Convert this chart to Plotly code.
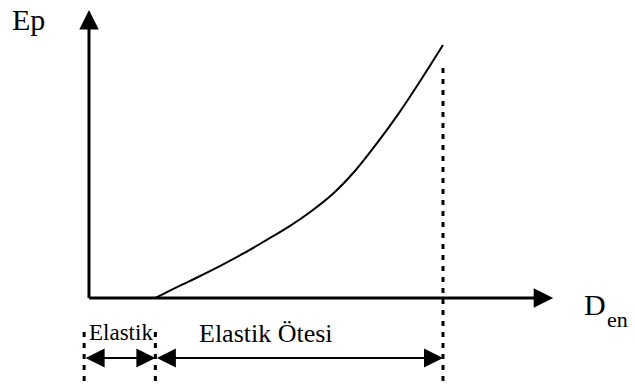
import plotly.graph_objects as go

# ---- data (conceptual curve: Ep vs D_en) ----
den = [1.5, 2.0, 2.5, 3.0, 3.5, 4.0, 4.5, 5.0, 5.5, 6.0, 6.5, 7.0, 7.5, 8.0]
ep = [0.0, 0.44, 0.86, 1.30, 1.77, 2.28, 2.80, 3.40, 4.10, 5.0, 6.1, 7.3, 8.62, 10.0]

y_label = "Ep"
x_label_main = "D"
x_label_sub = "en"
zone_labels = ["Elastik", "Elastik Ötesi"]

W, H = 635, 392
FONT = "Liberation Serif, Times New Roman, serif"

x_range = [-2.011, 12.339]
y_range = [-3.715, 11.779]

fig = go.Figure()

# curve
fig.add_trace(go.Scatter(x=den, y=ep, mode="lines",
                         line=dict(color="black", width=2, shape="spline", smoothing=1.0),
                         hoverinfo="skip", showlegend=False))

x0, x1 = den[0], den[-1]
x_left = -0.11
dash_bottom = -3.32
dash_top_small = -1.344

dash_line = dict(color="black", width=3, dash="5px,6px")
shapes = [
    dict(type="line", x0=x1, x1=x1, y0=9.09, y1=dash_bottom, xref="x", yref="y", line=dash_line),
    dict(type="line", x0=x0, x1=x0, y0=dash_top_small, y1=dash_bottom, xref="x", yref="y", line=dash_line),
    dict(type="line", x0=x_left, x1=x_left, y0=dash_top_small, y1=dash_bottom, xref="x", yref="y", line=dash_line),
]

ann = []
# y axis arrow
ann.append(dict(x=0, y=11.38, ax=0, ay=-0.06, xref="x", yref="y", axref="x", ayref="y",
                text="", showarrow=True, arrowhead=2, arrowwidth=3, arrowsize=1.3,
                arrowcolor="black", standoff=0, startstandoff=0))
# x axis arrow
ann.append(dict(x=10.49, y=0, ax=-0.03, ay=0, xref="x", yref="y", axref="x", ayref="y",
                text="", showarrow=True, arrowhead=2, arrowwidth=3, arrowsize=1.3,
                arrowcolor="black", standoff=0, startstandoff=0))
# bottom double arrows
arrow_y = -2.37
for a, b in [(x_left, x0), (x0, x1)]:
    ann.append(dict(x=b, y=arrow_y, ax=a, ay=arrow_y, xref="x", yref="y", axref="x", ayref="y",
                    text="", showarrow=True, arrowhead=2, startarrowhead=2,
                    arrowside="end+start", arrowwidth=2, arrowsize=1.9, startarrowsize=1.9,
                    arrowcolor="black", standoff=0, startstandoff=0))

# labels
ann.append(dict(x=-1.36, y=11.0, xref="x", yref="y", text=y_label, showarrow=False,
                font=dict(family=FONT, size=30, color="black")))
ann.append(dict(x=11.43, y=-0.27, xref="x", yref="y", text=x_label_main, showarrow=False,
                font=dict(family=FONT, size=30, color="black")))
ann.append(dict(x=11.95, y=-0.85, xref="x", yref="y", text=x_label_sub, showarrow=False,
                font=dict(family=FONT, size=22, color="black")))
ann.append(dict(x=(x_left + x0) / 2 + 0.02, y=-1.38, xref="x", yref="y", text=zone_labels[0],
                showarrow=False, font=dict(family=FONT, size=23, color="black")))
ann.append(dict(x=4.0, y=-1.42, xref="x", yref="y", text=zone_labels[1],
                showarrow=False, font=dict(family=FONT, size=26, color="black")))

fig.update_layout(
    width=W, height=H, margin=dict(l=0, r=0, t=0, b=0),
    paper_bgcolor="white", plot_bgcolor="white",
    xaxis=dict(range=x_range, visible=False, fixedrange=True),
    yaxis=dict(range=y_range, visible=False, fixedrange=True),
    shapes=shapes, annotations=ann, showlegend=False,
)

fig.write_html("out.html", config={"displayModeBar": False},
               post_script="document.body.style.margin='0';document.body.style.overflow='hidden';")
